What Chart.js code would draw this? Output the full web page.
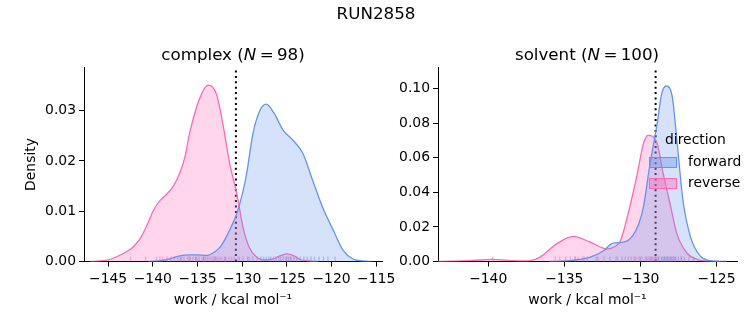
<!DOCTYPE html>
<html>
<head>
<meta charset="utf-8">
<script src="https://cdn.jsdelivr.net/npm/chart.js@4.4.1/dist/chart.umd.min.js"></script>
<style>
  body { margin: 0; background: #fff; font-family: "DejaVu Sans", sans-serif; }
  #wrap { position: relative; width: 753px; height: 325px; overflow: hidden; }
  canvas { position: absolute; top: 0; }
  .ttl { position: absolute; font-size: 16.7px; color: #000; white-space: nowrap; transform: translate(-50%, -50%); }
  #legend { position: absolute; left: 649px; top: 131px; font-size: 13.9px; color: #000; }
  #legend .head { position: absolute; left: 16px; top: 0; white-space: nowrap; }
  #legend .row { position: absolute; left: 0; white-space: nowrap; }
  #legend .sw { position: absolute; left: 0; width: 26px; height: 9px; border: 1px solid; }
  #legend .lbl { position: absolute; left: 39px; top: -4px; }
</style>
</head>
<body>
<div id="wrap">
  <canvas id="complexChart" width="410" height="325" style="left:0;width:410px;height:325px"></canvas>
  <canvas id="solventChart" width="363" height="325" style="left:390px;width:363px;height:325px"></canvas>
  <div class="ttl" style="left:376px;top:13px">RUN2858</div>
  <div class="ttl" style="left:233px;top:54px">complex (<i>N</i>&thinsp;=&thinsp;98)</div>
  <div class="ttl" style="left:587px;top:54px">solvent (<i>N</i>&thinsp;=&thinsp;100)</div>
  <div id="legend">
    <div class="head">direction</div>
    <div class="row" style="top:26px"><span class="sw" style="background:rgba(100,149,237,0.4);border-color:rgb(100,149,237)"></span><span class="lbl">forward</span></div>
    <div class="row" style="top:47px"><span class="sw" style="background:rgba(255,105,180,0.4);border-color:rgb(255,105,180)"></span><span class="lbl">reverse</span></div>
  </div>
</div>
<script>
// colours
var blue = 'rgb(100,149,237)';
var pink = 'rgb(255,105,180)';

// complex leg: kde curves
var complexFwdX = [-140.5, -139, -138, -137, -136, -135, -134, -133, -132.4, -131.8, -131.2, -130.6, -130, -129.5, -128.8, -128, -127.3, -126.5, -125.4, -124.3, -123.2, -122.1, -121, -119.8, -118.7, -117.6, -116.5, -115.5];
var complexFwdY = [0, 0.0002, 0.0006, 0.0011, 0.0013, 0.0013, 0.0012, 0.0020, 0.0030, 0.0048, 0.0070, 0.0095, 0.0133, 0.0175, 0.0254, 0.0301, 0.0313, 0.0297, 0.0261, 0.0241, 0.0215, 0.0161, 0.0108, 0.0062, 0.0022, 0.0005, 0.0001, 0];
var complexRevX = [-147, -146, -145, -144.25, -143.2, -142.2, -141.4, -140.7, -140, -139.3, -138.5, -137.7, -137, -136.4, -135.9, -134.7, -133.8, -132.9, -132.1, -131.4, -130.6, -129.9, -129.2, -128.4, -127.5, -126.5, -125.8, -125, -124.2, -123.5, -122.5, -121.5];
var complexRevY = [0, 0.0001, 0.0003, 0.0008, 0.0017, 0.0029, 0.0046, 0.0070, 0.0099, 0.0119, 0.0133, 0.0150, 0.0175, 0.0208, 0.0254, 0.0327, 0.0351, 0.0334, 0.0268, 0.0195, 0.0135, 0.0068, 0.0028, 0.0009, 0.0003, 0.0005, 0.0011, 0.0015, 0.0011, 0.0004, 0.0001, 0];
var complexFwdRug = [-136.8, -135.9, -135.2, -134.3, -133.0, -131.9, -130.3, -129.4, -128.8, -128.3, -127.9, -127.6, -127.3, -127.0, -126.8, -126.5, -126.2, -125.9, -125.7, -125.4, -125.1, -124.8, -124.5, -124.2, -123.9, -123.5, -123.1, -122.7, -122.3, -121.9, -121.4, -120.9, -120.4, -119.6];
var complexRevRug = [-142.5, -140.8, -139.6, -139.2, -138.9, -138.4, -138.0, -137.6, -137.2, -136.9, -136.5, -136.1, -135.8, -135.5, -135.2, -135.0, -134.8, -134.5, -134.3, -134.1, -133.9, -133.7, -133.5, -133.3, -133.1, -132.9, -132.7, -132.5, -132.3, -132.0, -131.8, -131.5, -131.2, -130.9, -130.5, -129.9, -129.2, -125.0, -124.6];
var complexMark = -130.7;
var complexXTicks = [-145, -140, -135, -130, -125, -120, -115];
var complexYTicks = [0, 0.01, 0.02, 0.03];

// solvent leg
var solventFwdX = [-136, -135, -134.5, -133.75, -133, -132.4, -131.8, -131.1, -130.5, -130.1, -129.8, -129.4, -128.9, -128.6, -128.3, -127.9, -127.6, -127.2, -126.7, -126.1, -125.5, -124.8, -124.3];
var solventFwdY = [0, 0.0003, 0.0007, 0.0015, 0.0035, 0.0064, 0.0106, 0.0112, 0.0150, 0.0220, 0.0315, 0.0546, 0.0797, 0.0971, 0.1015, 0.0951, 0.0701, 0.0353, 0.0141, 0.0035, 0.0006, 0.0001, 0];
var solventRevX = [-143.3, -142.4, -141, -139.8, -138.7, -137.7, -137, -136.6, -135.5, -134.4, -133.3, -132.2, -131.7, -131.3, -130.7, -130.2, -129.8, -129.5, -128.9, -128.5, -128, -127.6, -126.9, -126.2, -125.5, -124.8];
var solventRevY = [0, 0.0002, 0.0006, 0.0012, 0.0007, 0.0003, 0.0010, 0.0025, 0.0102, 0.0145, 0.0112, 0.0073, 0.0085, 0.0122, 0.0315, 0.0508, 0.0682, 0.0730, 0.0682, 0.0508, 0.0315, 0.0160, 0.0045, 0.0010, 0.0002, 0];
var solventFwdRug = [-134.3, -133.7, -132.8, -132.0, -131.5, -131.2, -130.8, -130.4, -130.0, -129.6, -129.3, -129.0, -128.8, -128.6, -128.5, -128.4, -128.3, -128.2, -128.1, -128.0, -127.9, -127.8, -127.7, -127.5, -127.3, -127.1, -126.8, -126.5];
var solventRevRug = [-139.7, -135.6, -135.3, -134.9, -134.6, -134.3, -134.1, -133.8, -133.5, -132.9, -132.4, -131.6, -131.0, -130.6, -130.3, -130.1, -129.9, -129.7, -129.5, -129.4, -129.3, -129.2, -129.1, -129.0, -128.9, -128.8, -128.6, -128.4, -128.2, -128.0, -127.7, -127.3];
var solventMark = -129.0;
var solventXTicks = [-140, -135, -130, -125];
var solventYTicks = [0, 0.02, 0.04, 0.06, 0.08, 0.10];

var font = { family: 'DejaVu Sans', size: 13.9 };

function pts(xs, ys){
  return xs.map((x, i) => ({x: x, y: ys[i]}));
}

function kde(xs, ys, col, fill){
  return {
    type: 'line', data: pts(xs, ys), borderColor: col, backgroundColor: fill,
    borderWidth: 1.3, pointRadius: 0, fill: 'origin', cubicInterpolationMode: 'monotone'
  };
}

function rug(vals, col){
  return {
    type: 'scatter', data: vals.map(v => ({x: v, y: 0})), pointStyle: 'line', rotation: 90,
    radius: 5, borderColor: col, borderWidth: 1.5, clip: 0
  };
}

function makeChart(id, p){
  // p: settings for one subplot
  return new Chart(document.getElementById(id), {
    type: 'line',
    data: {
      datasets: [
        kde(p.fwdX, p.fwdY, blue, 'rgba(100,149,237,0.27)'),
        kde(p.revX, p.revY, pink, 'rgba(255,105,180,0.27)'),
        rug(p.fwdRug, 'rgba(100,149,237,0.45)'),
        rug(p.revRug, 'rgba(255,105,180,0.45)'),
        { type: 'line', data: [{x: p.mark, y: 0}, {x: p.mark, y: p.ymax}], borderColor: '#000',
          borderWidth: 2, borderDash: [2, 3.4], pointRadius: 0, fill: false, tension: 0 }
      ]
    },
    options: {
      responsive: false, animation: false, events: [],
      layout: { padding: { top: 67.5, right: p.padRight, left: 0, bottom: 0 } },
      plugins: { legend: { display: false }, tooltip: { enabled: false } },
      scales: {
        x: {
          type: 'linear', min: p.xmin, max: p.xmax,
          afterBuildTicks: a => { a.ticks = p.xTicks.map(v => ({value: v})); },
          afterFit: a => { a.height = 63.5; },
          grid: { drawOnChartArea: false, drawTicks: true, tickLength: 5, color: '#000' },
          border: { display: true, color: '#000', width: 1 },
          ticks: { color: '#000', font: font, padding: 5, maxRotation: 0,
                   callback: v => (v < 0 ? '\u2212' : '') + Math.abs(v) },
          title: { display: true, text: 'work / kcal mol\u207B\u00B9', color: '#000', font: font,
                   padding: { top: 0, bottom: 16 } }
        },
        y: {
          type: 'linear', min: 0, max: p.ymax,
          afterBuildTicks: a => { a.ticks = p.yTicks.map(v => ({value: v})); },
          afterFit: a => { a.width = p.yWidth; },
          grid: { drawOnChartArea: false, drawTicks: true, tickLength: 5, color: '#000' },
          border: { display: true, color: '#000', width: 1 },
          ticks: { color: '#000', font: font, padding: 3, callback: v => v.toFixed(2) },
          title: { display: p.yTitle, text: 'Density', color: '#000', font: font,
                   padding: { top: 23, bottom: 0 } }
        }
      }
    }
  });
}

makeChart('complexChart', {
  fwdX: complexFwdX, fwdY: complexFwdY, revX: complexRevX, revY: complexRevY,
  fwdRug: complexFwdRug, revRug: complexRevRug, mark: complexMark,
  xTicks: complexXTicks, yTicks: complexYTicks,
  xmin: -147.7, xmax: -114.35, ymax: 0.0386, yWidth: 84, padRight: 28, yTitle: true
});

makeChart('solventChart', {
  fwdX: solventFwdX, fwdY: solventFwdY, revX: solventRevX, revY: solventRevY,
  fwdRug: solventFwdRug, revRug: solventRevRug, mark: solventMark,
  xTicks: solventXTicks, yTicks: solventYTicks,
  xmin: -143.3, xmax: -123.65, ymax: 0.1122, yWidth: 48, padRight: 16, yTitle: false
});
</script>
</body>
</html>
